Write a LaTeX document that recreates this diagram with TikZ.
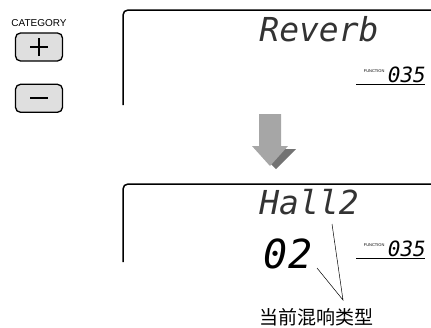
\documentclass[tikz,border=0pt]{standalone}
\usepackage{fontspec}
\setmainfont{Liberation Sans}
\newfontfamily\lcdfont{DejaVu Sans Mono}
\newfontfamily\cjk{Noto Sans CJK SC}
\usetikzlibrary{positioning}

\begin{document}
\begin{tikzpicture}[
  x=1pt,y=-1pt,
  key/.style={draw,rounded corners=5pt,line width=1.3pt,fill=gray!25,
              minimum width=47pt,minimum height=28pt,inner sep=0pt},
  sign/.style={line width=2pt},
  frame/.style={line width=1.5pt,rounded corners=5pt},
  lcd/.style={font=\lcdfont\itshape\fontsize{33}{33}\selectfont,
              text=black!80,inner sep=0pt},
  seg/.style={font=\lcdfont\itshape\fontsize{40}{40}\selectfont,inner sep=0pt},
  fnum/.style={font=\lcdfont\itshape\fontsize{21}{21}\selectfont,inner sep=0pt},
  fname/.style={font=\fontsize{4}{4}\selectfont,inner sep=0pt},
  lead/.style={line width=0.5pt}
]
\useasboundingbox (0,0) rectangle (431,327);

% buttons
\node[font=\fontsize{10}{10}\selectfont,inner sep=0pt] (cat) at (39,23) {CATEGORY};
\node[key] (plus) at (39,47) {};
\node[key,below=22pt of plus] (minus) {};
\draw[sign] ([xshift=-9pt]plus.center) -- ([xshift=9pt]plus.center)
            ([yshift=-9pt]plus.center) -- ([yshift=9pt]plus.center);
\draw[sign] ([xshift=-9pt]minus.center) -- ([xshift=9pt]minus.center);

% upper display
\draw[frame] (123,105) -- (123,10) -- (432,10);
\node[lcd] (rev) at (319,29) {Reverb};
\node[fnum,anchor=south east] (num1) at (426,83) {035};
\node[fname,left=3pt of num1.west,anchor=east,yshift=4pt] (fn1) {FUNCTION};
\draw[line width=0.8pt] (356,84.5) -- (425,84.5);

% arrow
\fill[black!55] (273,117) -- (273,149) -- (256,149) -- (276,169) -- (296,149)
                -- (279,149) -- (279,117) -- cycle;
\fill[black!35] (259,114) -- (259,146) -- (252,146) -- (270,166) -- (288,146)
                -- (281,146) -- (281,114) -- cycle;

% lower display
\draw[frame] (123,262) -- (123,184) -- (432,184);
\node[lcd] (hall) at (309,202) {Hall2};
\node[seg] (val) at (288,254) {02};
\node[fnum,anchor=south east] (num2) at (426,257) {035};
\node[fname,left=3pt of num2.west,anchor=east,yshift=4pt] (fn2) {FUNCTION};
\draw[line width=0.8pt] (356,258.5) -- (425,258.5);

% leader
\node[font=\cjk\fontsize{19}{19}\selectfont,inner sep=0pt] (cur) at (316,317) {当前混响类型};
\coordinate (tip) at (343,300);
\draw[lead] (332,224) -- (tip) -- (317,268);
\end{tikzpicture}
\end{document}
